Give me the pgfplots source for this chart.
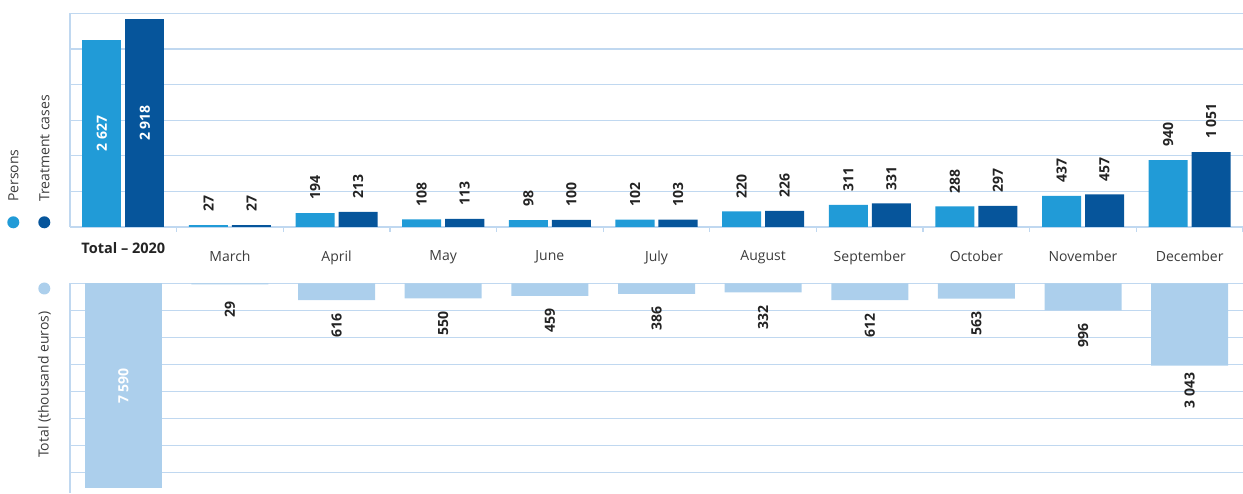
\documentclass[border=0pt]{standalone}
\usepackage{fontspec}
\setmainfont{Open Sans}
\usepackage{pgfplots}
\pgfplotsset{compat=1.18}
\definecolor{cP}{RGB}{33,155,215}
\definecolor{cT}{RGB}{6,85,155}
\definecolor{cE}{RGB}{172,207,236}
\definecolor{gridc}{RGB}{192,216,240}
\definecolor{txt}{RGB}{60,60,60}
\definecolor{lbl}{RGB}{35,35,35}
\newcommand\ts{\hspace{0.25em}}
\tikzset{lab/.style={font=\fontsize{14}{16}\selectfont\bfseries, text=lbl}}
\pgfplotsset{
 common/.style={
  scale only axis, width=1173pt, xmin=-0.5, xmax=10.5,
  axis line style={gridc, line width=1.3pt, -},
  grid style={gridc, line width=1.3pt},
  ymajorgrids,
  yticklabel=\empty,
  major tick length=0pt,
  minor xtick={0.5,1.5,...,10.5},
  minor tick length=5pt,
  minor tick style={gridc, line width=1.2pt},
  tick align=inside,
  clip=false,
  /pgf/number format/assume math mode=true,
  /pgf/number format/1000 sep={\ts},
  ybar,
 },
}
\begin{document}
\begin{tikzpicture}[x=1pt,y=1pt]
\useasboundingbox (0,0) rectangle (1243,493);

\begin{axis}[common,
  at={(70pt,266pt)}, anchor=south west, height=213.6pt,
  ymin=0, ymax=3000, ytick={0,500,...,3000},
  axis x line*=bottom, axis y line*=left,
  xtick={1,...,10},
  xticklabels={March,April,May,June,July,August,September,October,November,December},
  xticklabel style={font=\fontsize{14}{16}\selectfont, text=txt, yshift=-20pt},
  extra x ticks={0}, extra x tick labels={\textbf{Total -- 2020}},
  extra x tick style={xticklabel style={yshift=8pt, text=lbl, font=\fontsize{14.5}{16}\selectfont}},
]
\addplot[fill=cP, draw=none, bar width=0.366, bar shift=-0.2017] coordinates {(0,2627)};
\addplot[fill=cT, draw=none, bar width=0.366, bar shift=0.2017] coordinates {(0,2918)};
\addplot[fill=cP, draw=none, bar width=0.366, bar shift=-0.2017, nodes near coords,
  every node near coord/.append style={lab, yshift=13pt, rotate=90, anchor=west, inner sep=0pt}]
  coordinates {(1,27) (2,194) (3,108) (4,98) (5,102) (6,220) (7,311) (8,288) (9,437) (10,940)};
\addplot[fill=cT, draw=none, bar width=0.366, bar shift=0.2017, nodes near coords,
  every node near coord/.append style={lab, yshift=13pt, rotate=90, anchor=west, inner sep=0pt}]
  coordinates {(1,27) (2,213) (3,113) (4,100) (5,103) (6,226) (7,331) (8,297) (9,457) (10,1051)};
\addplot[sharp plot, draw=none, mark=none, bar shift=0pt, point meta=explicit symbolic, nodes near coords,
  every node near coord/.append style={lab, text=white, rotate=90, anchor=center, inner sep=0pt}]
  coordinates {(-0.2017,1313.5) [2\ts 627] (0.2017,1459) [2\ts 918]};
\end{axis}

\begin{axis}[common,
  at={(70pt,209.5pt)}, anchor=north west, height=209.5pt,
  ymin=-7760, ymax=0, ytick={-7000,-6000,...,0},
  axis x line*=top, axis y line*=left,
  xtick=\empty,
]
\addplot[fill=cE, draw=none, bar width=0.722, bar shift=0] coordinates {(0,-7590)};
\addplot[fill=cE, draw=none, bar width=0.722, bar shift=0, point meta=explicit, nodes near coords,
  every node near coord/.append style={lab, yshift=-25pt, rotate=90, anchor=center, inner sep=0pt}]
  coordinates {(1,-29) [29] (2,-616) [616] (3,-550) [550] (4,-459) [459] (5,-386) [386]
   (6,-332) [332] (7,-612) [612] (8,-563) [563] (9,-996) [996] (10,-3043) [3043]};
\addplot[sharp plot, draw=none, mark=none, bar shift=0pt, point meta=explicit symbolic, nodes near coords,
  every node near coord/.append style={lab, text=white, rotate=90, anchor=center, inner sep=0pt}]
  coordinates {(0,-3795) [7\ts 590]};
\end{axis}

% legend
\fill[cP] (13.3,270.7) circle (6);
\fill[cT] (44.3,270.7) circle (6);
\fill[cE] (44.3,204.5) circle (6);
\node[rotate=90, anchor=west, inner sep=0pt, text=txt, font=\fontsize{14}{16}\selectfont] at (13.5,291) {Persons};
\node[rotate=90, anchor=west, inner sep=0pt, text=txt, font=\fontsize{14}{16}\selectfont] at (44.5,291) {Treatment cases};
\node[rotate=90, anchor=west, inner sep=0pt, text=txt, font=\fontsize{14}{16}\selectfont] at (44.5,35) {Total (thousand euros)};
\end{tikzpicture}
\end{document}
